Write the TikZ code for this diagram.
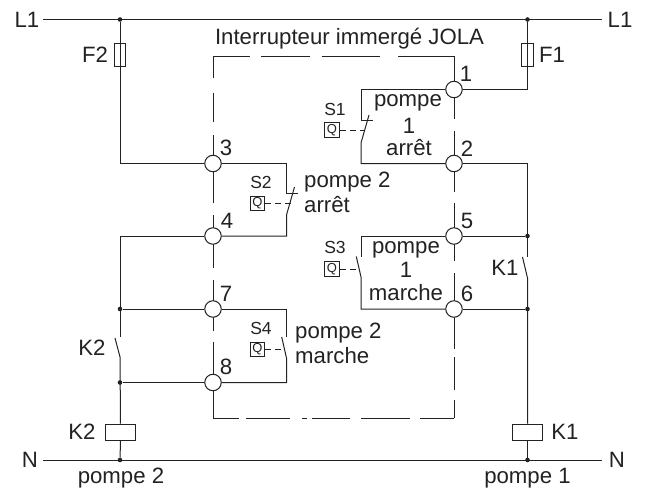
\documentclass[tikz,border=0pt]{standalone}
\usepackage{fontspec}
\setmainfont{Liberation Sans}
\definecolor{ink}{HTML}{222222}
\tikzset{
  wire/.style={draw=ink,line width=1pt},
  term/.style={circle,draw=ink,fill=white,line width=1pt,minimum size=16.5pt,inner sep=0pt},
  dot/.style={circle,fill=ink,minimum size=4.6pt,inner sep=0pt},
  bx/.style={draw=ink,line width=1pt},
  lab/.style={inner sep=0pt,font=\fontsize{22.2}{24}\selectfont,text=ink},
  sm/.style={inner sep=0pt,font=\fontsize{17.5}{20}\selectfont,text=ink},
  link/.style={draw=ink,line width=0.9pt,dash pattern=on 6pt off 4pt},
  qbox/.style={draw=ink,line width=0.9pt,fill=white,minimum width=14.5pt,minimum height=14.5pt,inner sep=0pt,font=\fontsize{13}{14}\selectfont,text=ink}
}
\begin{document}
\begin{tikzpicture}[x=1pt,y=-1pt]
\useasboundingbox (0,0) rectangle (646,490);
% dashed enclosure
\foreach \a/\b in {213/250,261/309.5,321.5/379.5,398/454}{\draw[wire] (\a,56) -- (\b,56);}
\foreach \a/\b in {213/239,246/290,302/307,312/350,361/410,420/454}{\draw[wire] (\a,418) -- (\b,418);}
\foreach \a/\b in {56/78,93/122,135/163.5,163.5/203,215/236,236/268,280/309,309/331,342/382,382/418}{\draw[wire] (213,\a) -- (213,\b);}
\foreach \a/\b in {56/89.5,89.5/119,131/163.5,163.5/192,203/236,236/261,273/309,309/349,357/390,400/418}{\draw[wire] (454,\a) -- (454,\b);}
% mains
\coordinate (L1a) at (43,19.5); \coordinate (L1b) at (602,19.5);
\coordinate (Na) at (43,460); \coordinate (Nb) at (602,460);
\draw[wire] (L1a) -- (L1b);
\draw[wire] (Na) -- (Nb);
% terminals
\node[term] (t1) at (454,89.5) {};
\node[term] (t2) at (454,163.5) {};
\node[term] (t3) at (213,163.5) {};
\node[term] (t4) at (213,236) {};
\node[term] (t5) at (454,236) {};
\node[term] (t6) at (454,309) {};
\node[term] (t7) at (213,309) {};
\node[term] (t8) at (213,382.5) {};
% junctions
\node[dot] (jL2) at (120,19.5) {};
\node[dot] (jL1) at (527.5,19.5) {};
\node[dot] (j7) at (120,309) {};
\node[dot] (j8) at (120,382.5) {};
\node[dot] (jN2) at (120,460) {};
\node[dot] (jN1) at (527.5,460) {};
\node[dot] (j5) at (527.5,236) {};
\node[dot] (j6) at (527.5,309) {};
% fuses and coils
\node[bx,fill=white,minimum width=11.5pt,minimum height=23pt,inner sep=0pt] (F2) at (120,54.5) {};
\node[bx,fill=white,minimum width=11.5pt,minimum height=23pt,inner sep=0pt] (F1) at (527.5,54.5) {};
\node[bx,fill=white,minimum width=30pt,minimum height=16pt,inner sep=0pt] (C2) at (120.5,432) {};
\node[bx,fill=white,minimum width=30pt,minimum height=16pt,inner sep=0pt] (C1) at (527.5,432) {};
\draw[wire] (jL2) -- (F2.north);
\draw[wire] (F2.north) -- (F2.south);
\draw[wire] (jL1) -- (F1.north);
\draw[wire] (F1.north) -- (F1.south);
% left power branch
\draw[wire] (F2.south) -- (120,163.5) -- (t3.west);
\draw[wire] (t4.west) -- (120,236) -- (120,337);
\draw[wire] (115,338) -- (120,357) -- (C2.north);
\draw[wire] (j7) -- (t7.west);
\draw[wire] (j8) -- (t8.west);
\draw[wire] (C2.south) -- (jN2);
% right power branch
\draw[wire] (F1.south) -- (527.5,89.5) -- (t1.east);
\draw[wire] (t2.east) -- (527.5,163.5) -- (527.5,257);
\draw[wire] (j5) -- (t5.east);
\draw[wire] (j6) -- (t6.east);
\draw[wire] (522.5,257) -- (527.5,278) -- (C1.north);
\draw[wire] (C1.south) -- (jN1);
% S2 break contact
\draw[wire] (t3.east) -- (286.5,163.5) -- (286.5,193.5) -- (298,193.5);
\draw[wire] (294.5,187) -- (286.5,215) -- (286.5,236) -- (t4.east);
\node[qbox] (Q2) at (257.5,203.5) {Q};
\draw[link] (Q2.east) -- (291,203.5);
% S4 make contact
\draw[wire] (t7.east) -- (286.5,309) -- (286.5,337);
\draw[wire] (281.7,337) -- (286.5,358) -- (286.5,382.5) -- (t8.east);
\node[qbox] (Q4) at (257.5,349.5) {Q};
\draw[link] (Q4.east) -- (284,349.5);
% S1 break contact
\draw[wire] (t1.west) -- (361,89.5) -- (361,120) -- (372.5,120);
\draw[wire] (369,115) -- (361,143) -- (361,163.5) -- (t2.west);
\node[qbox] (Q1) at (332,130) {Q};
\draw[link] (Q1.east) -- (365,130);
% S3 make contact
\draw[wire] (t5.west) -- (361,236) -- (361,256.5);
\draw[wire] (356.3,256.5) -- (361,277) -- (361,309) -- (t6.west);
\node[qbox] (Q3) at (332,269) {Q};
\draw[link] (Q3.east) -- (358.5,269);
% labels
\node[lab] (tL1a) at (27,19.5) {L1};
\node[lab] (tL1b) at (620,19.5) {L1};
\node[lab] (tNa) at (30,460) {N};
\node[lab] (tNb) at (617,460) {N};
\node[lab] (tF2) at (95,54.5) {F2};
\node[lab] (tF1) at (552,54.5) {F1};
\node[lab] (tJ) at (349.5,39) {Interrupteur immergé JOLA};
\node[lab] (n1) at (466,74) {1};
\node[lab] (n2) at (467,149) {2};
\node[lab] (n5) at (467,221) {5};
\node[lab] (n6) at (467,294) {6};
\node[lab] (n3) at (226,148) {3};
\node[lab] (n4) at (227,221) {4};
\node[lab] (n7) at (226,294) {7};
\node[lab] (n8) at (226,367) {8};
\node[sm] (s2) at (261,182.5) {S2};
\node[sm] (s4) at (261,328) {S4};
\node[sm] (s1) at (335,109) {S1};
\node[sm] (s3) at (335,247) {S3};
\node[lab,anchor=west] (p2a) at (304,182) {pompe 2};
\node[lab,anchor=west] (p2b) at (304,204.5) {arrêt};
\node[lab,anchor=west] (p4a) at (295,333) {pompe 2};
\node[lab,anchor=west] (p4b) at (295,356) {marche};
\node[lab] (p1a) at (408,103) {pompe};
\node[lab] (p1b) at (409,126) {1};
\node[lab] (p1c) at (409,148) {arrêt};
\node[lab] (p3a) at (406,250) {pompe};
\node[lab] (p3b) at (406,270) {1};
\node[lab] (p3c) at (406,293) {marche};
\node[lab] (k2a) at (92,348) {K2};
\node[lab] (k1a) at (505,268) {K1};
\node[lab] (k2b) at (82,432) {K2};
\node[lab] (k1b) at (565,432) {K1};
\node[lab] (pp2) at (121,478) {pompe 2};
\node[lab] (pp1) at (527.5,478) {pompe 1};
\end{tikzpicture}
\end{document}
